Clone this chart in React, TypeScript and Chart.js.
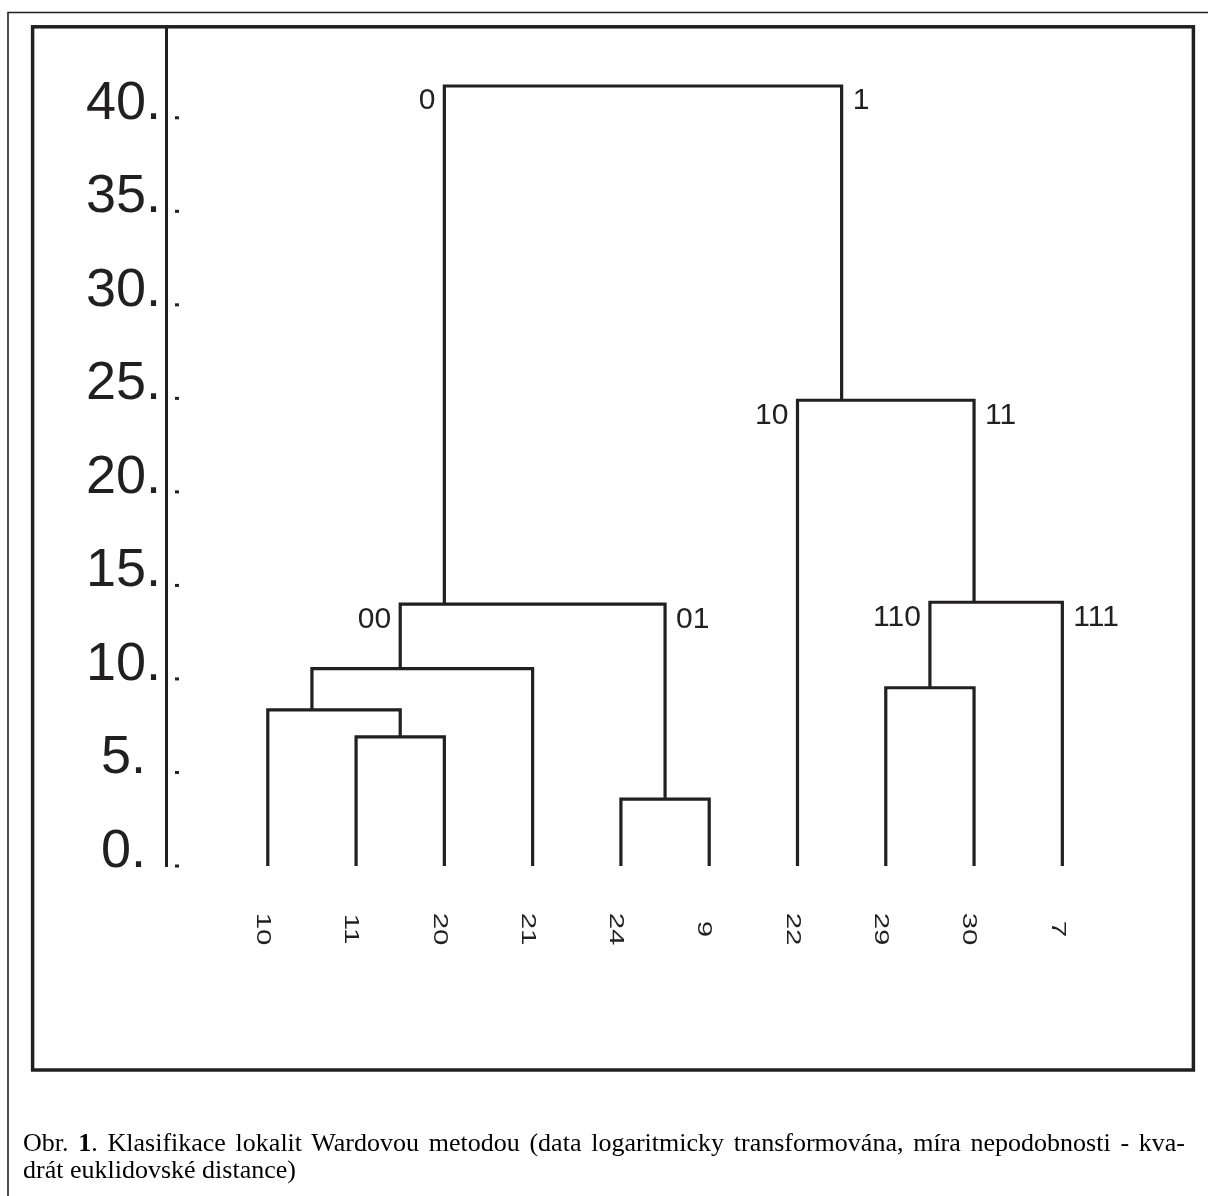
import React, { useEffect, useRef } from 'react';
import { Chart, registerables } from 'chart.js';

Chart.register(...registerables);

// ---- data ----
const leafLabels = ['10', '11', '20', '21', '24', '9', '22', '29', '30', '7'];
// node ids: 0..9 leaves, 10+k = merge k
const mergeLeft = [1, 0, 11, 4, 12, 7, 15, 6, 14];
const mergeRight = [2, 10, 3, 5, 13, 8, 9, 16, 17];
const mergeHeight = [6.9, 8.35, 10.55, 3.58, 14.0, 9.53, 14.1, 24.9, 41.7];
// position of each merge's stem along the leaf axis (in leaf index units)
const mergeStemX = [1.5, 0.5, 1.5, 4.5, 2.0, 7.5, 8.0, 6.5, 4.25];
// [merge index, left branch name, right branch name]
const clusterNames: [number, string, string][] = [
  [8, '0', '1'],
  [4, '00', '01'],
  [7, '10', '11'],
  [6, '110', '111'],
];
const yTickValues = [0, 5, 10, 15, 20, 25, 30, 35, 40];
const captionLine1Pre = 'Obr. ';
const captionNum = '1';
const captionLine1Post = '. Klasifikace lokalit Wardovou metodou (data logaritmicky transformována, míra nepodobnosti - kva-';
const captionLine2 = 'drát euklidovské distance)';

const INK = '#231f20';
const SANS = '"Liberation Sans", Arial, sans-serif';

const nodeX = (id: number) => (id < leafLabels.length ? id : mergeStemX[id - leafLabels.length]);
const nodeH = (id: number) => (id < leafLabels.length ? 0 : mergeHeight[id - leafLabels.length]);

const framePlugin = {
  id: 'frame',
  beforeDraw(chart: any) {
    const ctx = chart.ctx;
    ctx.save();
    ctx.strokeStyle = INK;
    ctx.lineWidth = 1.6;
    ctx.beginPath();
    ctx.moveTo(8, 1196);
    ctx.lineTo(8, 12.5);
    ctx.lineTo(1208, 12.5);
    ctx.stroke();
    ctx.lineWidth = 3.5;
    ctx.strokeRect(32.6, 26.8, 1193.4 - 32.6, 1070 - 26.8);
    ctx.restore();
  },
  afterDraw(chart: any) {
    const ctx = chart.ctx;
    const xs = chart.scales.x;
    const ys = chart.scales.y;
    ctx.save();
    ctx.fillStyle = INK;
    // small tick marks right of axis
    yTickValues.forEach((v) => {
      const py = ys.getPixelForValue(v);
      ctx.fillRect(ys.right + 9, py - 1.5, 4, 3);
    });
    // leaf labels (rotated clockwise)
    const y0 = ys.getPixelForValue(0);
    ctx.font = `21px ${SANS}`;
    ctx.textAlign = 'center';
    ctx.textBaseline = 'middle';
    leafLabels.forEach((lab, i) => {
      const px = xs.getPixelForValue(i);
      ctx.save();
      ctx.translate(px - 5, y0 + 63);
      ctx.rotate(Math.PI / 2);
      ctx.scale(1.4, 1);
      ctx.fillText(lab, 0, 0);
      ctx.restore();
    });
    // cluster names
    ctx.font = `30px ${SANS}`;
    ctx.textBaseline = 'alphabetic';
    clusterNames.forEach(([k, l, r]) => {
      const h = mergeHeight[k];
      const py = ys.getPixelForValue(h) + 23.5;
      const xl = xs.getPixelForValue(nodeX(mergeLeft[k]));
      const xr = xs.getPixelForValue(nodeX(mergeRight[k]));
      ctx.textAlign = 'right';
      ctx.fillText(l, xl - 9, py);
      ctx.textAlign = 'left';
      ctx.fillText(r, xr + 11, py);
    });
    ctx.restore();
  },
};

export default function App() {
  const ref = useRef<HTMLCanvasElement | null>(null);
  useEffect(() => {
    if (!ref.current) return;
    const datasets = mergeHeight.map((h, k) => {
      const l = mergeLeft[k];
      const r = mergeRight[k];
      return {
        data: [
          { x: nodeX(l), y: nodeH(l) },
          { x: nodeX(l), y: h },
          { x: nodeX(r), y: h },
          { x: nodeX(r), y: nodeH(r) },
        ],
        showLine: true,
        borderColor: INK,
        borderWidth: 3.2,
        pointRadius: 0,
        borderJoinStyle: 'miter' as const,
        borderCapStyle: 'butt' as const,
        tension: 0,
        clip: false as any,
      };
    });
    const chart = new Chart(ref.current, {
      type: 'scatter',
      data: { datasets },
      plugins: [framePlugin],
      options: {
        responsive: false,
        animation: false,
        devicePixelRatio: 1,
        layout: { padding: { left: 0, top: 28, right: 15, bottom: 330 } },
        plugins: { legend: { display: false }, tooltip: { enabled: false }, title: { display: false } },
        events: [],
        scales: {
          x: { type: 'linear', min: -1.153, max: 10.48, display: false },
          y: {
            type: 'linear',
            position: 'left',
            min: 0,
            max: 44.8,
            grid: { display: false, drawTicks: false },
            border: { display: true, color: INK, width: 3 },
            afterBuildTicks: (scale: any) => {
              scale.ticks = yTickValues.map((v) => ({ value: v }));
            },
            afterFit: (scale: any) => {
              scale.width = 166;
              scale.paddingTop = 0;
              scale.paddingBottom = 0;
            },
            ticks: {
              color: INK,
              font: { family: SANS, size: 54 },
              padding: 5,
              labelOffset: -14,
              crossAlign: 'center',
              callback: (v: any) => `${v}.`,
            },
          },
        },
      },
    } as any);
    return () => chart.destroy();
  }, []);

  return (
    <div style={{ position: 'absolute', left: 0, top: 0, width: 1208, height: 1196, background: '#fff' }}>
      <canvas ref={ref} width={1208} height={1196} style={{ position: 'absolute', left: 0, top: 0 }} />
      <div
        style={{
          position: 'absolute',
          left: 23,
          top: 1129,
          width: 1162,
          fontFamily: '"Liberation Serif", "Times New Roman", serif',
          fontSize: 26,
          lineHeight: '27px',
          color: '#000',
        }}
      >
        <div style={{ textAlign: 'justify', textAlignLast: 'justify', whiteSpace: 'nowrap' as any }}>
          {captionLine1Pre}
          <b>{captionNum}</b>
          {captionLine1Post}
        </div>
        <div>{captionLine2}</div>
      </div>
    </div>
  );
}
